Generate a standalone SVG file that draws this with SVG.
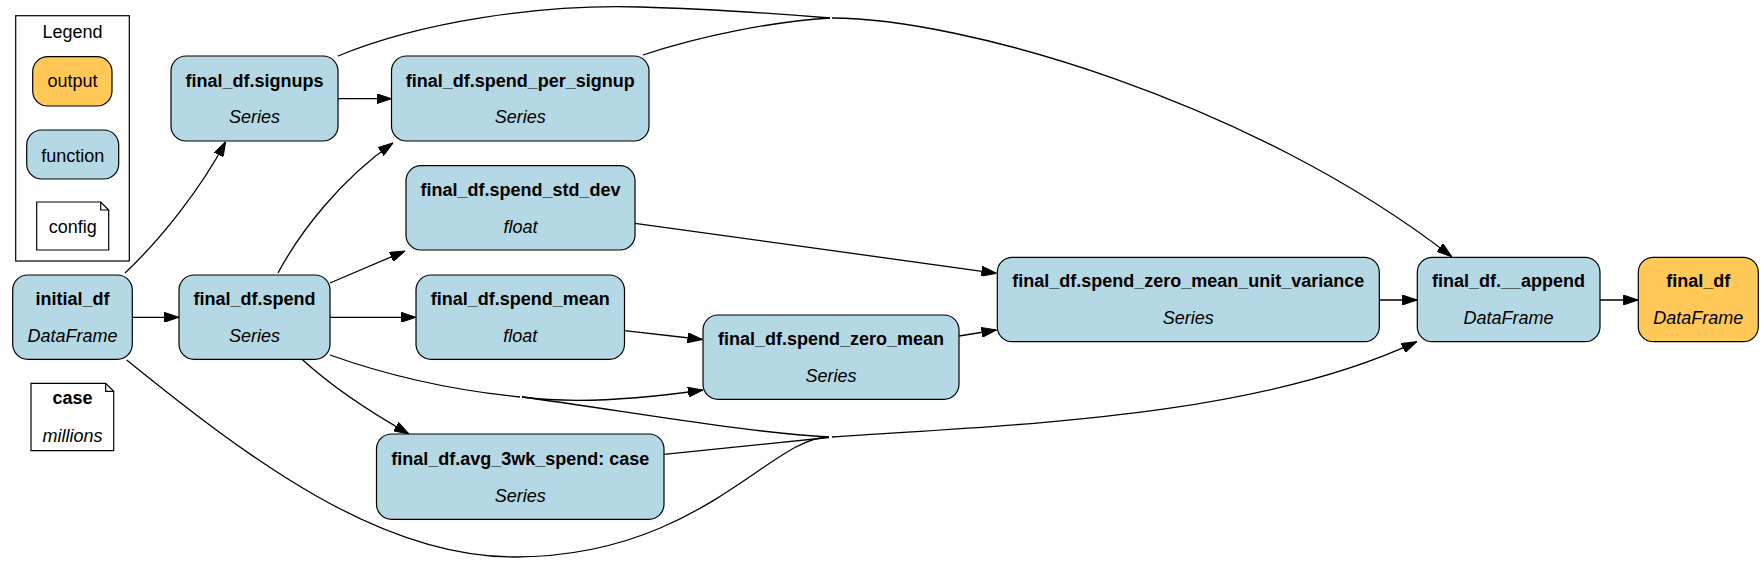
<svg xmlns="http://www.w3.org/2000/svg" width="1764" height="565" viewBox="0 0 1764 565">
<style>
text{font-family:"Liberation Sans",Arial,Helvetica,sans-serif;font-size:18px;text-anchor:middle;fill:#000}
.t{font-weight:bold}
.s{font-style:italic}
.fn{fill:#b4d8e4;stroke:#000;stroke-width:1.2}
.out{fill:#ffc857;stroke:#000;stroke-width:1.2}
.cfg{fill:#fff;stroke:#000;stroke-width:1.2}
.e{fill:none;stroke:#000;stroke-width:1.3}
.a{marker-end:url(#arr)}
</style>
<defs>
<marker id="arr" viewBox="0 0 15 10" markerWidth="15" markerHeight="10" refX="15" refY="5" orient="auto" markerUnits="userSpaceOnUse">
<path d="M0,0 L15,5 L0,10 z" fill="#000" stroke="#000" stroke-width="1"/>
</marker>
</defs>
<rect width="1764" height="565" fill="#fff"/>
<g id="legend">
<rect x="15.7" y="15.7" width="113.6" height="245.3" fill="#fff" stroke="#000" stroke-width="1.2"/>
<text x="72.5" y="38">Legend</text>
<rect class="out" x="32.7" y="56.7" width="79.3" height="49.3" rx="15"/>
<text x="72.4" y="87.3">output</text>
<rect class="fn" x="26.7" y="130" width="92" height="49" rx="15"/>
<text x="72.7" y="161.5">function</text>
<path class="cfg" d="M36.7,202 H100.7 L108.7,210 V250 H36.7 z M100.7,202 V210 H108.7"/>
<text x="72.7" y="233.3">config</text>
</g>
<g id="edges">
<path class="e a" d="M132.3,317.3 L179,317.3"/>
<path class="e a" d="M125,273 C160,240 200,190 225.7,141.7"/>
<path class="e a" d="M338,98.7 L391.5,98.7"/>
<path class="e" d="M338,56 C420,22 540,4 640,7 C720,9 780,14 830,18"/>
<path class="e" d="M643,55 C700,36 770,22 830,18"/>
<path class="e a" d="M832,18 C960,18 1250,100 1451.7,256.7"/>
<path class="e a" d="M278,273 C300,232 340,180 393,143"/>
<path class="e a" d="M330,283 L405,251"/>
<path class="e a" d="M330,317.3 L416,317.3"/>
<path class="e a" d="M302,359.3 C330,385 370,412 409,434"/>
<path class="e" d="M330,355 C400,380 470,392 520,397"/>
<path class="e a" d="M522,397 C560,402 620,402 703,390"/>
<path class="e" d="M522,397 C620,410 740,432 829,437"/>
<path class="e" d="M664,454.3 L829,437.5"/>
<path class="e" d="M126.7,360 C250,460 380,557 514,557 C700,557 770,437 829,437"/>
<path class="e a" d="M832,437 C1000,425 1250,420 1416.7,341.7"/>
<path class="e a" d="M624.5,330.7 L702.5,339.5"/>
<path class="e a" d="M635,223.3 L996.5,273.3"/>
<path class="e a" d="M959,336 L996.5,330"/>
<path class="e a" d="M1379.3,300 L1417.3,300"/>
<path class="e a" d="M1600,300 L1638.3,300"/>
</g>
<g id="initial_df">
<rect class="fn" x="12.7" y="275" width="119.6" height="84.3" rx="15"/>
<text class="t" x="72.5" y="305">initial_df</text>
<text class="s" x="72.5" y="342">DataFrame</text>
</g>
<g id="case">
<path class="cfg" d="M31,383.3 H105.7 L113.7,391.3 V450.7 H31 z M105.7,383.3 V391.3 H113.7"/>
<text class="t" x="72.4" y="404">case</text>
<text class="s" x="72.4" y="442">millions</text>
</g>
<g id="final_df.signups">
<rect class="fn" x="171" y="56" width="167" height="85" rx="15"/>
<text class="t" x="254.5" y="87">final_df.signups</text>
<text class="s" x="254.5" y="123">Series</text>
</g>
<g id="final_df.spend">
<rect class="fn" x="179" y="275" width="151" height="84.3" rx="15"/>
<text class="t" x="254.5" y="305">final_df.spend</text>
<text class="s" x="254.5" y="342">Series</text>
</g>
<g id="final_df.spend_per_signup">
<rect class="fn" x="391.5" y="56" width="257.5" height="85" rx="15"/>
<text class="t" x="520.2" y="87">final_df.spend_per_signup</text>
<text class="s" x="520.2" y="123">Series</text>
</g>
<g id="final_df.spend_std_dev">
<rect class="fn" x="406" y="165.7" width="229" height="84.3" rx="15"/>
<text class="t" x="520.5" y="196">final_df.spend_std_dev</text>
<text class="s" x="520.5" y="233">float</text>
</g>
<g id="final_df.spend_mean">
<rect class="fn" x="416" y="275" width="208.5" height="84.3" rx="15"/>
<text class="t" x="520.2" y="305">final_df.spend_mean</text>
<text class="s" x="520.2" y="342">float</text>
</g>
<g id="final_df.avg_3wk_spend">
<rect class="fn" x="376.5" y="434" width="287.5" height="85.3" rx="15"/>
<text class="t" x="520.2" y="464.5">final_df.avg_3wk_spend: case</text>
<text class="s" x="520.2" y="501.5">Series</text>
</g>
<g id="final_df.spend_zero_mean">
<rect class="fn" x="703" y="315" width="256" height="84.3" rx="15"/>
<text class="t" x="831" y="345">final_df.spend_zero_mean</text>
<text class="s" x="831" y="382">Series</text>
</g>
<g id="final_df.spend_zero_mean_unit_variance">
<rect class="fn" x="997.3" y="257.3" width="382" height="84.4" rx="15"/>
<text class="t" x="1188.3" y="286.7">final_df.spend_zero_mean_unit_variance</text>
<text class="s" x="1188.3" y="324">Series</text>
</g>
<g id="final_df.__append">
<rect class="fn" x="1417.3" y="257.3" width="182.7" height="84.4" rx="15"/>
<text class="t" x="1508.6" y="286.7">final_df.__append</text>
<text class="s" x="1508.6" y="323.5">DataFrame</text>
</g>
<g id="final_df">
<rect class="out" x="1638.3" y="257.3" width="120" height="84.4" rx="15"/>
<text class="t" x="1698.3" y="286.7">final_df</text>
<text class="s" x="1698.3" y="323.5">DataFrame</text>
</g>
</svg>
